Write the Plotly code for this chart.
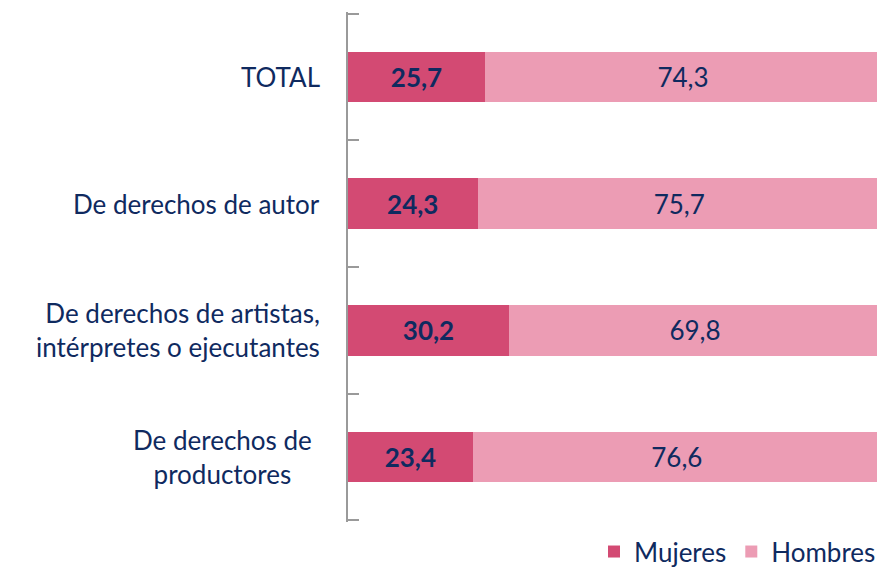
import plotly.graph_objects as go

categorias = ["TOTAL", "De derechos de autor",
              "De derechos de artistas,<br>intérpretes o ejecutantes",
              "De derechos de<br>productores"]
mujeres = [25.7, 24.3, 30.2, 23.4]
hombres = [74.3, 75.7, 69.8, 76.6]

navy = "#0f2a5f"
fuente = "Lato"
pos = list(range(len(categorias)))


def fmt(v):
    return f"{v:.1f}".replace(".", ",")


fig = go.Figure()
fig.add_trace(go.Bar(
    y=pos, x=mujeres, orientation="h", name="Mujeres",
    marker=dict(color="#d34a73", line=dict(width=0)),
    text=["<b>" + fmt(v) + "</b>" for v in mujeres],
    textposition="inside", insidetextanchor="middle",
    textfont=dict(color=navy, size=26, family=fuente),
))
fig.add_trace(go.Bar(
    y=pos, x=hombres, orientation="h", name="Hombres",
    marker=dict(color="#ec9cb4", line=dict(width=0)),
    text=[fmt(v) for v in hombres],
    textposition="inside", insidetextanchor="middle",
    textfont=dict(color=navy, size=26, family=fuente),
))

# category labels left of the axis
for i, c in enumerate(categorias):
    last = i == len(categorias) - 1
    fig.add_annotation(
        x=0, xref="paper", y=i, yref="y", text=c, showarrow=False,
        xanchor="right", align="center" if last else "right",
        xshift=-34 if last else -26,
        font=dict(color=navy, size=26, family=fuente),
    )

# page body has an 8px margin, so the figure is sized 8px smaller
fig.update_layout(
    width=877, height=563,
    barmode="stack", bargap=0.6,
    plot_bgcolor="white", paper_bgcolor="white",
    margin=dict(l=340, r=4, t=4, b=49, autoexpand=False),
    font=dict(family=fuente, color=navy, size=26),
    uniformtext=dict(mode="show", minsize=10),
    showlegend=True,
    legend=dict(orientation="h", x=1, xanchor="right", y=-0.012, yanchor="top",
                font=dict(size=26, color=navy, family=fuente),
                itemwidth=30, traceorder="normal"),
    xaxis=dict(range=[0, 100], visible=False, fixedrange=True),
    yaxis=dict(range=[3.515, -0.515], showticklabels=False,
               tickmode="array", tickvals=[-0.5, 0.5, 1.5, 2.5, 3.5],
               showline=True, linecolor="#9a9a9a", linewidth=2,
               ticks="inside", ticklen=11,
               tickcolor="#9a9a9a", tickwidth=2, showgrid=False, zeroline=False),
)

fig.write_html("out.html")
